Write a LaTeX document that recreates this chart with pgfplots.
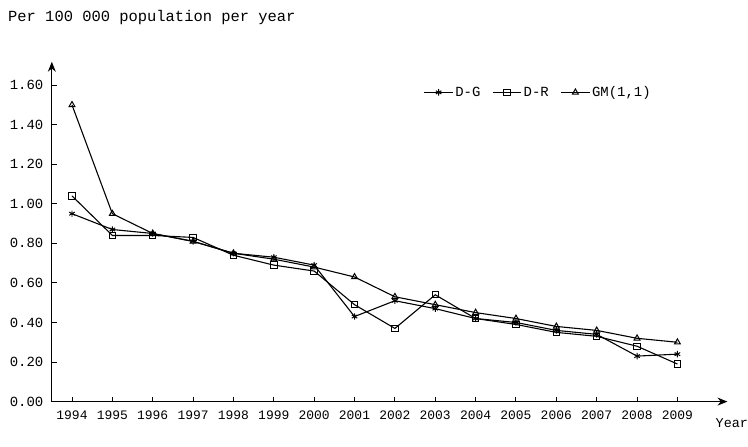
\documentclass[border=0pt]{standalone}
\usepackage{pgfplots}
\pgfplotsset{compat=1.18}
\usepackage{pgfplotstable}
\usepackage{fontspec}
\setmainfont{Liberation Mono}
\usetikzlibrary{arrows.meta}
\pgfplotstableread{
year DG DR GM
1994 0.95 1.04 1.50
1995 0.87 0.84 0.95
1996 0.85 0.84 0.85
1997 0.81 0.83 0.81
1998 0.75 0.74 0.75
1999 0.73 0.69 0.72
2000 0.69 0.66 0.68
2001 0.43 0.49 0.63
2002 0.51 0.37 0.53
2003 0.47 0.54 0.49
2004 0.42 0.42 0.45
2005 0.40 0.39 0.42
2006 0.36 0.35 0.38
2007 0.34 0.33 0.36
2008 0.23 0.28 0.32
2009 0.24 0.19 0.30
}\data
\begin{document}
\begin{tikzpicture}
\begin{axis}[
  at={(0,0)}, anchor=south west,
  scale only axis, width=678bp, height=341bp,
  xmin=1993.5, xmax=2010.24, ymin=0, ymax=1.718,
  axis lines=left,
  axis line style={line width=1.2bp, -{Stealth[length=10bp,width=8bp]}},
  xtick={1994,...,2009},
  xticklabels={1994,1995,1996,1997,1998,1999,2000,2001,2002,2003,2004,2005,2006,2007,2008,2009},
  ytick={0,0.2,...,1.61},
  yticklabel style={/pgf/number format/fixed, /pgf/number format/fixed zerofill, /pgf/number format/precision=2, /pgf/number format/assume math mode=true, font=\fontsize{14bp}{16bp}\selectfont, xshift=-5bp},
  xticklabel style={font=\fontsize{13bp}{16bp}\selectfont, yshift=-6bp},
  major tick length=5bp,
  tick style={line width=1bp, black},
  tick align=inside,
  legend columns=3,
  legend style={at={(0.72,0.91)}, anchor=center, draw=none, fill=none, font=\fontsize{14bp}{16bp}\selectfont, /tikz/every even column/.append style={column sep=10bp}},
  legend image code/.code={\draw[mark repeat=2,mark phase=2,#1] plot coordinates {(0cm,0cm) (0.5cm,0cm) (1cm,0cm)};},
]
\addplot[black, line width=1.1bp, mark=asterisk, mark size=3.2bp, mark options={solid, line width=1bp}] table[x=year,y=DG] {\data};
\addlegendentry{D-G}
\addplot[black, line width=1.1bp, mark=square, mark size=3.2bp, mark options={solid, fill=white, line width=1bp}] table[x=year,y=DR] {\data};
\addlegendentry{D-R}
\addplot[black, line width=1.1bp, mark=triangle, mark size=3.4bp, mark options={solid, fill=white, line width=1bp}] table[x=year,y=GM] {\data};
\addlegendentry{GM(1,1)}
\end{axis}
\node[anchor=west, font=\fontsize{15.5bp}{18bp}\selectfont, inner sep=0pt] at (-44bp,385bp) {Per 100 000 population per year};
\node[anchor=west, font=\fontsize{13.5bp}{16bp}\selectfont, inner sep=0pt] at (666bp,-22bp) {Year};
\useasboundingbox (-52bp,-45bp) rectangle (696bp,403bp);
\end{tikzpicture}
\end{document}
